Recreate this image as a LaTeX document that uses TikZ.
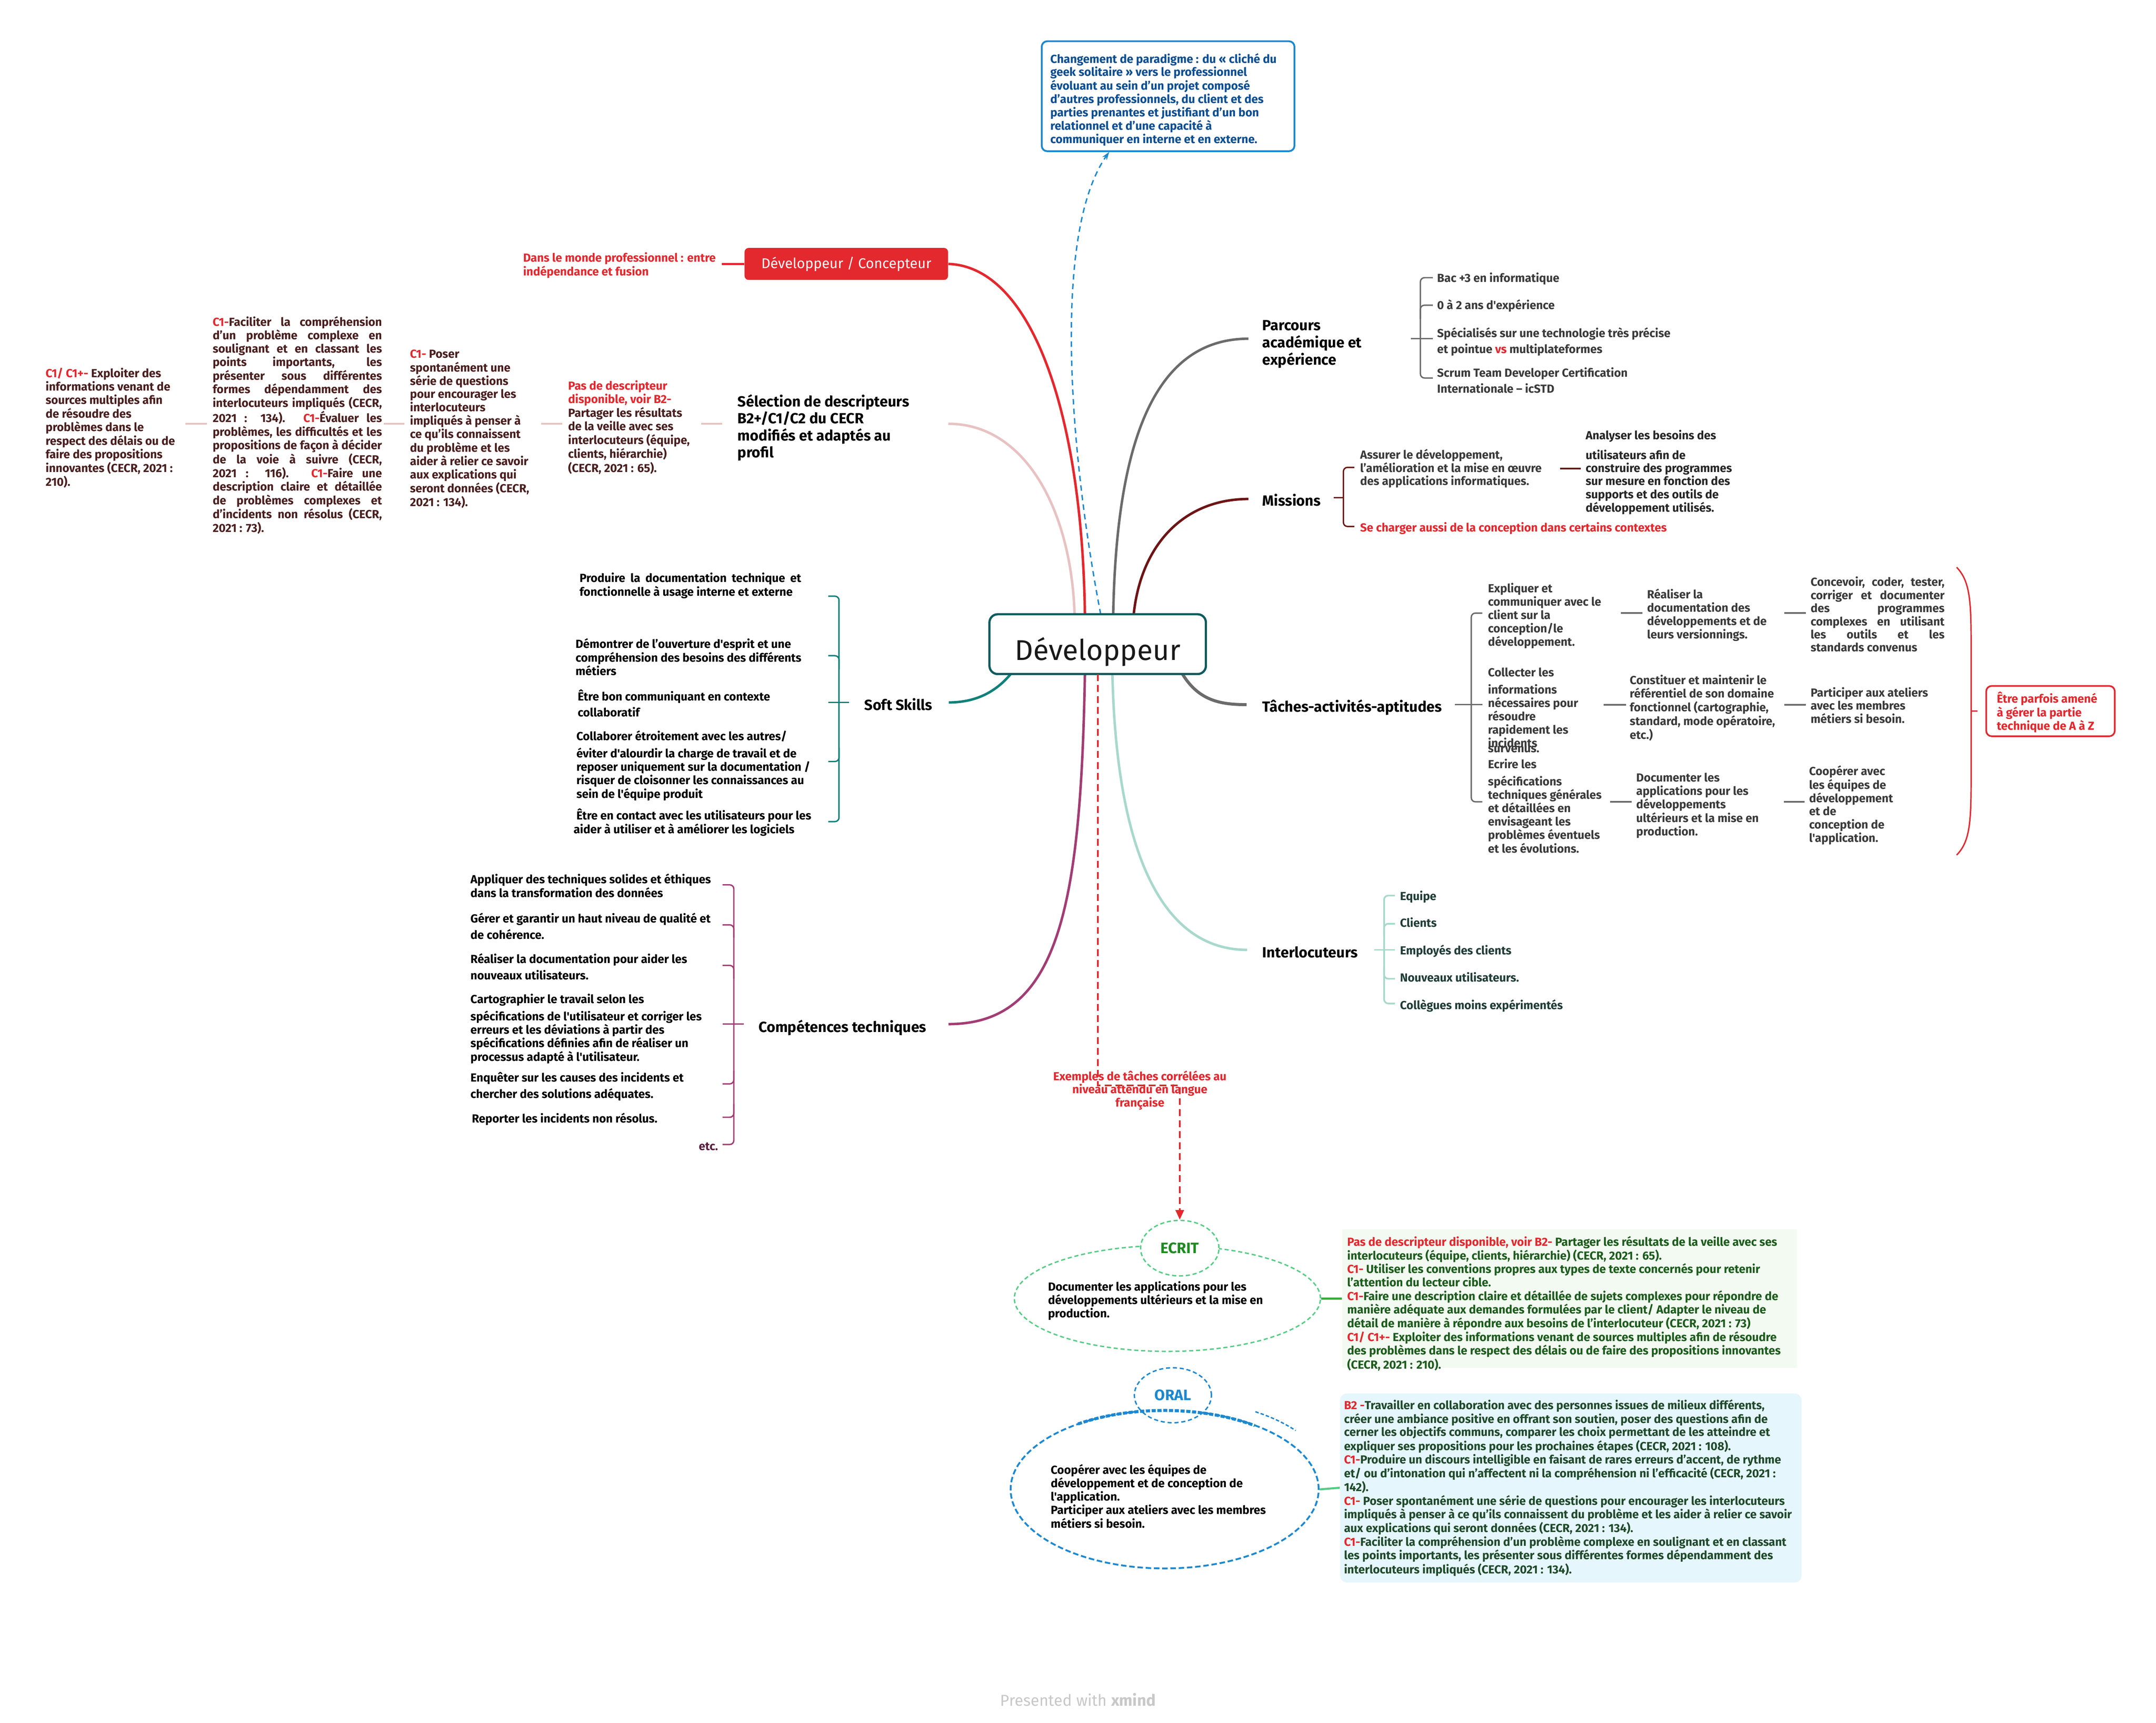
\documentclass[tikz,border=0pt]{standalone}
\usepackage{fontspec}
\setmainfont{Fira Sans}[Ligatures=TeXOff]
\usetikzlibrary{arrows.meta,shapes.geometric}
\definecolor{xred}{HTML}{E3282E}
\definecolor{xpink}{HTML}{E8C2C2}
\definecolor{xmaroon}{HTML}{4A1E1E}
\definecolor{xgrey}{HTML}{6B6B6B}
\definecolor{xdgrey}{HTML}{3A3A3A}
\definecolor{xdred}{HTML}{6E1414}
\definecolor{xteal}{HTML}{10807A}
\definecolor{xpurple}{HTML}{A23D74}
\definecolor{xetc}{HTML}{5A1F3F}
\definecolor{xlteal}{HTML}{A8D8CC}
\definecolor{xintxt}{HTML}{1F3D36}
\definecolor{xcenter}{HTML}{0E5B5D}
\definecolor{xblue}{HTML}{1C88D0}
\definecolor{xbluetxt}{HTML}{0C4E92}
\definecolor{xgreen}{HTML}{55CC85}
\definecolor{xgline}{HTML}{3CAA3C}
\definecolor{xgreentxt}{HTML}{1C5C1C}
\definecolor{xecrit}{HTML}{1F8A22}
\definecolor{xgbg}{HTML}{F2FAF1}
\definecolor{xbbg}{HTML}{E6F6FD}
\definecolor{xoraltxt}{HTML}{1E4A2A}
\definecolor{xwm}{HTML}{C8C8C8}
\newcommand{\mlines}[1]{\begin{tabular}[t]{@{}l@{}}#1\end{tabular}}
\newcommand{\clines}[1]{\begin{tabular}[t]{@{}c@{}}#1\end{tabular}}
\newcommand{\jline}[2]{\makebox[#1][s]{#2}}
\newcommand{\redt}[1]{\textcolor{xred}{#1}}
\newcommand{\sfz}[1]{\bfseries\fontsize{8.5}{#1}\selectfont}
\tikzset{
  smalltxt/.style={inner sep=0pt, anchor=base west, font=\sfz{9.3}, text=black},
  lbl/.style={inner sep=0pt, anchor=base west, font=\bfseries\fontsize{10.7}{12.2}\selectfont, text=black},
  brk/.style={line width=1pt, rounded corners=3pt},
  mainbr/.style={line width=1.8pt},
  link/.style={line width=1.3pt},
}
\begin{document}
\begin{tikzpicture}[x=1pt,y=-1pt]
\useasboundingbox (0,0) rectangle (1568,1253.2);
\fill[white] (0,0) rectangle (1568,1253.2);

% attachment points on the central node
\coordinate (dN1) at (781.5,446.9);
\coordinate (dN2) at (789,446.9);
\coordinate (dN3) at (800.5,446.9);
\coordinate (dN4) at (809.6,446.9);
\coordinate (dN5) at (824.5,446.9);
\coordinate (dS1) at (735,490.4);
\coordinate (dS2) at (789,490.4);
\coordinate (dS3) at (798.5,490.4);
\coordinate (dS4) at (809,490.4);
\coordinate (dS5) at (860,490.4);
\coordinate (selIn) at (689.7,308.3);
\coordinate (parcIn) at (908,246.4);
\coordinate (missIn) at (908,363);
\coordinate (softIn) at (690,511);
\coordinate (tachIn) at (906.6,512.6);
\coordinate (compIn) at (689.8,745);
\coordinate (intIn) at (907,691);
\coordinate (noteIn) at (806.7,110.5);

% ---------- nodes ----------
\node[fill=xred, rounded corners=3pt, minimum width=148pt, minimum height=23.3pt, inner sep=0pt, text=white, font=\fontsize{10.3}{12}\selectfont] (concept) at (615.5,192) {Développeur / Concepteur};
\node[smalltxt, text=xred, font=\sfz{9.5}] (conceptlbl) at (380.3,190.6) {\mlines{Dans le monde professionnel : entre\\indépendance et fusion}};

\node[draw=xblue, line width=1.3pt, rounded corners=4pt, fill=white, minimum width=183.8pt, minimum height=80pt, inner sep=0pt] (notebox) at (849.5,70) {};
\node[smalltxt, text=xbluetxt, font=\sfz{9.32}] (notetext) at (763.7,45.8) {\mlines{Changement de paradigme : du « cliché du\\geek solitaire » vers le professionnel\\évoluant au sein d’un projet composé\\d’autres professionnels, du client et des\\parties prenantes et justifiant d’un bon\\relationnel et d’une capacité à\\communiquer en interne et en externe.}};

% Selection branch
\node[lbl] (sel) at (536.3,295.8) {\mlines{Sélection de descripteurs\\B2+/C1/C2 du CECR\\modifiés et adaptés au\\profil}};
\node[smalltxt, text=xmaroon, font=\sfz{9.35}] (pasdesc) at (413,283.8) {\mlines{\redt{Pas de descripteur}\\\redt{disponible, voir B2-}\\Partager les résultats\\de la veille avec ses\\interlocuteurs (équipe,\\clients, hiérarchie)\\(CECR, 2021 : 65).}};
\node[smalltxt, text=xmaroon] (poser) at (298,260.5) {\mlines{\redt{C1-} Poser\\spontanément une\\série de questions\\pour encourager les\\interlocuteurs\\impliqués à penser à\\ce qu’ils connaissent\\du problème et les\\aider à relier ce savoir\\aux explications qui\\seront données (CECR,\\2021 : 134).}};
\node[smalltxt, text=xmaroon, font=\sfz{9.34}] (faciliter) at (154.5,237.1) {\mlines{%
\jline{123.1pt}{\redt{C1-}Faciliter la compréhension}\\
\jline{123.1pt}{d’un problème complexe en}\\
\jline{123.1pt}{soulignant et en classant les}\\
\jline{123.1pt}{points importants, les}\\
\jline{123.1pt}{présenter sous différentes}\\
\jline{123.1pt}{formes dépendamment des}\\
\jline{123.1pt}{interlocuteurs impliqués (CECR,}\\
\jline{123.1pt}{2021 : 134). \redt{C1-}Évaluer les}\\
\jline{123.1pt}{problèmes, les difficultés et les}\\
\jline{123.1pt}{propositions de façon à décider}\\
\jline{123.1pt}{de la voie à suivre (CECR,}\\
\jline{123.1pt}{2021 : 116). \redt{C1-}Faire une}\\
\jline{123.1pt}{description claire et détaillée}\\
\jline{123.1pt}{de problèmes complexes et}\\
\jline{123.1pt}{d’incidents non résolus (CECR,}\\
2021 : 73).}};
\node[smalltxt, text=xmaroon, font=\sfz{9.33}] (exploiter) at (33,274.6) {\mlines{\redt{C1/ C1+-} Exploiter des\\informations venant de\\sources multiples afin\\de résoudre des\\problèmes dans le\\respect des délais ou de\\faire des propositions\\innovantes (CECR, 2021 :\\210).}};

% Parcours
\node[lbl] (parcours) at (918,240.3) {\mlines{Parcours\\académique et\\expérience}};
\node[smalltxt, text=xdgrey] (bac) at (1045,205.3) {Bac +3 en informatique};
\node[smalltxt, text=xdgrey] (exp02) at (1045,225.1) {0 à 2 ans d'expérience};
\node[smalltxt, text=xdgrey, font=\sfz{11.8}] (spec) at (1045,245.3) {\mlines{Spécialisés sur une technologie très précise\\et pointue \redt{vs} multiplateformes}};
\node[smalltxt, text=xdgrey, font=\sfz{11.5}] (scrum) at (1045,274.3) {\mlines{Scrum Team Developer Certification\\Internationale – icSTD}};

% Missions
\node[lbl] (missions) at (918,368) {Missions};
\node[smalltxt, text=xdgrey, font=\sfz{8.75}] (assurer) at (989,333.8) {\mlines{Assurer le développement,\\l’amélioration et la mise en œuvre\\des applications informatiques.}};
\node[smalltxt, text=black!85, font=\sfz{8.75}] (analyser) at (1153,319.7) {\mlines{Analyser les besoins des\\[4.85pt]utilisateurs afin de\\construire des programmes\\sur mesure en fonction des\\supports et des outils de\\développement utilisés.}};
\node[smalltxt, text=xred] (charger) at (989,386.9) {Se charger aussi de la conception dans certains contextes};

% Taches
\node[lbl] (taches) at (918,517.9) {Tâches-activités-aptitudes};
\node[smalltxt, text=xdgrey] (expliquer) at (1082,431) {\mlines{Expliquer et\\communiquer avec le\\client sur la\\conception/le\\développement.}};
\node[smalltxt, text=xdgrey, font=\sfz{9.1}] (collecter) at (1082,492.3) {\mlines{Collecter les\\[2.7pt]informations\\nécessaires pour\\résoudre\\rapidement les\\incidents\\[-5.3pt]survenus.}};
\node[smalltxt, text=xdgrey, font=\sfz{9.1}] (ecrire) at (1082,559.1) {\mlines{Ecrire les\\[2.5pt]spécifications\\techniques générales\\et détaillées en\\envisageant les\\problèmes éventuels\\et les évolutions.}};
\node[smalltxt, text=xdgrey, font=\sfz{9.5}] (realiser) at (1197.7,435.3) {\mlines{Réaliser la\\documentation des\\développements et de\\leurs versionnings.}};
\node[smalltxt, text=xdgrey] (constituer) at (1185.1,497.7) {\mlines{Constituer et maintenir le\\référentiel de son domaine\\fonctionnel (cartographie,\\standard, mode opératoire,\\etc.)}};
\node[smalltxt, text=xdgrey, font=\sfz{9.35}] (documenter) at (1189.8,568.7) {\mlines{Documenter les\\applications pour les\\développements\\ultérieurs et la mise en\\production.}};
\node[smalltxt, text=xdgrey, font=\sfz{9.35}] (concevoir) at (1316.6,426.3) {\mlines{%
\jline{97.4pt}{Concevoir, coder, tester,}\\
\jline{97.4pt}{corriger et documenter}\\
\jline{97.4pt}{des programmes}\\
\jline{97.4pt}{complexes en utilisant}\\
\jline{97.4pt}{les outils et les}\\
standards convenus}};
\node[smalltxt, text=xdgrey, font=\sfz{9.25}] (participer) at (1316.6,507) {\mlines{Participer aux ateliers\\avec les membres\\métiers si besoin.}};
\node[smalltxt, text=xdgrey, font=\sfz{9.35}] (cooperer) at (1315.5,564) {\mlines{Coopérer avec\\les équipes de\\développement\\et de\\conception de\\l'application.}};
\node[draw=xred, line width=1.2pt, rounded corners=4pt, fill=white, minimum width=93.5pt, minimum height=36.6pt, inner sep=0pt] (amene) at (1491.25,517.3) {};
\node[smalltxt, text=xred, font=\sfz{9.5}] (amenetext) at (1452,511.3) {\mlines{Être parfois amené\\à gérer la partie\\technique de A à Z}};

% Soft skills
\node[lbl] (soft) at (628.4,516.8) {Soft Skills};
\node[smalltxt, font=\sfz{9.1}] (produire) at (421.3,423.6) {\mlines{\jline{161.2pt}{Produire la documentation technique et}\\fonctionnelle à usage interne et externe}};
\node[smalltxt, font=\sfz{9.2}] (demontrer) at (418.4,471.6) {\mlines{Démontrer de l’ouverture d'esprit et une\\compréhension des besoins des différents\\métiers}};
\node[smalltxt, font=\sfz{11.4}] (etrebon) at (420,509.8) {\mlines{Être bon communiquant en contexte\\collaboratif}};
\node[smalltxt] (collaborer) at (419,538.6) {\mlines{Collaborer étroitement avec les autres/\\[2.7pt]éviter d'alourdir la charge de travail et de\\reposer uniquement sur la documentation /\\risquer de cloisonner les connaissances au\\sein de l'équipe produit}};
\node[smalltxt] (contact) at (419,596.3) {\mlines{Être en contact avec les utilisateurs pour les\\\hspace*{-2pt}aider à utiliser et à améliorer les logiciels}};

% Competences
\node[lbl] (comp) at (551.5,750.8) {Compétences techniques};
\node[smalltxt, font=\sfz{9.1}] (appliquer) at (342,642.8) {\mlines{Appliquer des techniques solides et éthiques\\dans la transformation des données}};
\node[smalltxt, font=\sfz{12}] (gerer) at (342,671.3) {\mlines{Gérer et garantir un haut niveau de qualité et\\de cohérence.}};
\node[smalltxt, font=\sfz{11.8}] (realdoc) at (342,700.8) {\mlines{Réaliser la documentation pour aider les\\nouveaux utilisateurs.}};
\node[smalltxt, font=\sfz{9.1}] (carto) at (342,729.8) {\mlines{Cartographier le travail selon les\\[2.7pt]spécifications de l'utilisateur et corriger les\\erreurs et les déviations à partir des\\spécifications définies afin de réaliser un\\processus adapté à l'utilisateur.}};
\node[smalltxt, font=\sfz{12}] (enqueter) at (342,787) {\mlines{Enquêter sur les causes des incidents et\\chercher des solutions adéquates.}};
\node[smalltxt] (reporter) at (343,816.7) {Reporter les incidents non résolus.};
\node[smalltxt, text=xetc] (etc) at (508,836.8) {etc.};

% Interlocuteurs
\node[lbl] (interloc) at (918,696.5) {Interlocuteurs};
\node[smalltxt, text=xintxt] (equipe) at (1018,654.9) {Equipe};
\node[smalltxt, text=xintxt] (clients) at (1018,674.3) {Clients};
\node[smalltxt, text=xintxt] (employes) at (1018,694.3) {Employés des clients};
\node[smalltxt, text=xintxt] (nouveaux) at (1018,714.3) {Nouveaux utilisateurs.};
\node[smalltxt, text=xintxt] (collegues) at (1018,734.3) {Collègues moins expérimentés};

% ---------- main branches ----------
\draw[mainbr, xpink] (dN1) .. controls (779,370) and (745,308.3) .. (selIn);
\draw[mainbr, xred] (dN2) .. controls (787,300) and (750,194) .. (concept.east);
\draw[mainbr, xgrey] (dN4) .. controls (812,320) and (840,246.4) .. (parcIn);
\draw[mainbr, xdred] (dN5) .. controls (830,395) and (862,363) .. (missIn);
\draw[mainbr, xteal] (dS1) .. controls (722,506) and (706,511) .. (softIn);
\draw[line width=2.2pt, xgrey] (dS5) .. controls (872,510) and (888,512.6) .. (tachIn);
\draw[mainbr, xpurple] (dS2) .. controls (786,660) and (770,745) .. (compIn);
\draw[mainbr, xlteal] (dS4) .. controls (812,620) and (845,691) .. (intIn);
\draw[xblue, line width=1pt, dash pattern=on 4pt off 3pt, -{Stealth[length=6pt,width=4pt]}] (dN3) .. controls (778,330) and (765,170) .. (noteIn);

% central node
\node[draw=xcenter, line width=1.6pt, rounded corners=6pt, fill=white, minimum width=157.4pt, minimum height=43.5pt, inner sep=0pt, text height=23.4pt, text depth=0pt, font=\fontsize{20.8}{24}\selectfont, text=black!90] (dev) at (798.3,468.6) {Développeur};

% ---------- sub connectors ----------
\draw[xred, line width=1.5pt] (525,192) -- (concept.west);
\draw[link, xpink] (509.9,308.3) -- (525.3,308.3);
\draw[link, xpink] (393.7,308.3) -- (409,308.3);
\draw[link, xpink] (279,308.3) -- (294.3,308.3);
\draw[link, xpink] (135,308.3) -- (150.5,308.3);

% Parcours bracket
\draw[brk, xgrey] (1042,202) -- (1033,202) -- (1033,275) -- (1042,275);
\draw[brk, xgrey] (1042,222) -- (1033,222) -- (1033,232);
\draw[line width=1pt, xgrey] (1026,246.4) -- (1042,246.4);

% Missions bracket
\draw[brk, xdred] (985,340) -- (977,340) -- (977,383) -- (985,383);
\draw[line width=1pt, xdred] (970,362) -- (977,362);
\draw[link, xdred] (1134.5,341) -- (1149.5,341);

% Taches bracket
\draw[brk, xgrey] (1078,446) -- (1070,446) -- (1070,583.3) -- (1078,583.3);
\draw[line width=1pt, xgrey] (1058,512.6) -- (1078,512.6);
\draw[link, xgrey] (1178.7,446) -- (1194.5,446);
\draw[link, xgrey] (1166.4,512.6) -- (1182.5,512.6);
\draw[link, xgrey] (1171,583.3) -- (1186.6,583.3);
\draw[link, xgrey] (1297.6,446) -- (1313.4,446);
\draw[link, xgrey] (1297.6,512.6) -- (1313.4,512.6);
\draw[link, xgrey] (1297.5,583.3) -- (1312.5,583.3);
\draw[xred, line width=1pt] (1423,412.7) .. controls (1432,422) and (1433.5,435) .. (1433.5,465) -- (1433.5,570) .. controls (1433.5,600) and (1432,613) .. (1423,622);
\draw[xred, line width=1pt] (1433.5,517.3) -- (1438,517.3);

% Soft skills bracket
\draw[brk, xteal] (602.4,433.7) -- (610.2,433.7) -- (610.2,597.7) -- (602.4,597.7);
\draw[brk, xteal] (602.4,477) -- (610.2,477) -- (610.2,487);
\draw[brk, xteal] (602.4,554) -- (610.2,554) -- (610.2,544);
\draw[line width=1pt, xteal] (602.4,510.9) -- (617.6,510.9);

% Competences bracket
\draw[brk, xpurple] (525.5,643.7) -- (533.7,643.7) -- (533.7,832.6) -- (525.5,832.6);
\draw[brk, xpurple] (525.5,672.8) -- (533.7,672.8) -- (533.7,682);
\draw[brk, xpurple] (525.5,702.3) -- (533.7,702.3) -- (533.7,712);
\draw[brk, xpurple] (525.5,788.5) -- (533.7,788.5) -- (533.7,779);
\draw[brk, xpurple] (525.5,812.8) -- (533.7,812.8) -- (533.7,803);
\draw[line width=1pt, xpurple] (525.5,745) -- (541,745);

% Interlocuteurs bracket
\draw[brk, xlteal, line width=1.2pt] (1014.5,651.5) -- (1006.6,651.5) -- (1006.6,730) -- (1014.5,730);
\draw[brk, xlteal, line width=1.2pt] (1014.5,672) -- (1006.6,672) -- (1006.6,681);
\draw[brk, xlteal, line width=1.2pt] (1014.5,712) -- (1006.6,712) -- (1006.6,703);
\draw[line width=1.2pt, xlteal] (999.5,691) -- (1014.5,691);

% ---------- ECRIT ----------
\node[ellipse, draw=xgreen, line width=1pt, dash pattern=on 3pt off 2pt, minimum width=222.6pt, minimum height=77pt, inner sep=0pt] (ecritbig) at (849,944.6) {};
\node[ellipse, draw=xgreen, line width=1pt, dash pattern=on 3pt off 2pt, fill=white, minimum width=57pt, minimum height=40.4pt, inner sep=0pt, text=xecrit, font=\bfseries\fontsize{11}{12}\selectfont] (ecritS) at (858,908) {ECRIT};
\node[smalltxt, font=\sfz{9.2}] (ecrittext) at (762,939) {\mlines{Documenter les applications pour les\\développements ultérieurs et la mise en\\production.}};
\draw[xgline, line width=1.5pt] (ecritbig.east) -- (976,944.6);
\node[fill=xgbg, minimum width=330.7pt, minimum height=100.5pt, inner sep=0pt, anchor=north west] (ecritbox) at (976,894.3) {};
\node[smalltxt, text=xgreentxt, font=\sfz{9.31}] (ecritdesc) at (979.6,906.3) {\mlines{\redt{Pas de descripteur disponible, voir B2-} Partager les résultats de la veille avec ses\\interlocuteurs (équipe, clients, hiérarchie) (CECR, 2021 : 65).\\\redt{C1-} Utiliser les conventions propres aux types de texte concernés pour retenir\\l’attention du lecteur cible.\\\redt{C1-}Faire une description claire et détaillée de sujets complexes pour répondre de\\manière adéquate aux demandes formulées par le client/ Adapter le niveau de\\détail de manière à répondre aux besoins de l’interlocuteur (CECR, 2021 : 73)\\\redt{C1/ C1+-} Exploiter des informations venant de sources multiples afin de résoudre\\des problèmes dans le respect des délais ou de faire des propositions innovantes\\(CECR, 2021 : 210).}};

% red dashed arrow
\draw[xred, line width=1.3pt, dash pattern=on 5pt off 3pt, -{Triangle[length=7pt,width=6pt]}] (dS3) -- (798.5,789.6) -| (ecritS.north);
\node[smalltxt, anchor=base, text=xred, font=\sfz{9.2}] (exemples) at (829,785.9) {\clines{Exemples de tâches corrélées au\\niveau attendu en langue\\française}};

% ---------- ORAL ----------
\node[ellipse, draw=xblue, line width=1.3pt, dash pattern=on 4pt off 2pt, minimum width=224pt, minimum height=115pt, inner sep=0pt] (oralbig) at (847,1083.5) {};
\node[ellipse, draw=xblue, line width=1pt, dash pattern=on 3pt off 2pt, fill=white, minimum width=56pt, minimum height=40pt, inner sep=0pt, text=xblue, font=\bfseries\fontsize{11}{12}\selectfont] (oralS) at (853,1015) {ORAL};
\draw[xblue, line width=2.2pt, dash pattern=on 3pt off 1.2pt] (784,1035.9) arc[start angle=236, end angle=306, x radius=112, y radius=57.5];
\draw[xblue, line width=1pt, dash pattern=on 2.5pt off 1.5pt] (913,1027) arc[start angle=302, end angle=322, x radius=113.5, y radius=59];
\node[smalltxt, font=\sfz{9.35}] (oraltext) at (764,1072.3) {\mlines{Coopérer avec les équipes de\\développement et de conception de\\l'application.\\Participer aux ateliers avec les membres\\métiers si besoin.}};
\draw[xgreen, line width=1.5pt] (oralbig.east) -- (974.4,1082.3);
\node[fill=xbbg, rounded corners=5pt, minimum width=335.6pt, minimum height=137.5pt, inner sep=0pt, anchor=north west] (oralbox) at (974.4,1013.5) {};
\node[smalltxt, text=xoraltxt, font=\sfz{9.33}] (oraldesc) at (977.3,1025.3) {\mlines{\redt{B2 -}Travailler en collaboration avec des personnes issues de milieux différents,\\créer une ambiance positive en offrant son soutien, poser des questions afin de\\cerner les objectifs communs, comparer les choix permettant de les atteindre et\\expliquer ses propositions pour les prochaines étapes (CECR, 2021 : 108).\\\redt{C1-}Produire un discours intelligible en faisant de rares erreurs d’accent, de rythme\\et/ ou d’intonation qui n’affectent ni la compréhension ni l’efficacité (CECR, 2021 :\\142).\\\redt{C1-} Poser spontanément une série de questions pour encourager les interlocuteurs\\impliqués à penser à ce qu’ils connaissent du problème et les aider à relier ce savoir\\aux explications qui seront données (CECR, 2021 : 134).\\\redt{C1-}Faciliter la compréhension d’un problème complexe en soulignant et en classant\\les points importants, les présenter sous différentes formes dépendamment des\\interlocuteurs impliqués (CECR, 2021 : 134).}};

% watermark
\node[inner sep=0pt, anchor=base, text=xwm, font=\fontsize{11.5}{13}\selectfont] (wm) at (784,1240.9) {Presented with \textbf{xmind}};
\end{tikzpicture}
\end{document}
